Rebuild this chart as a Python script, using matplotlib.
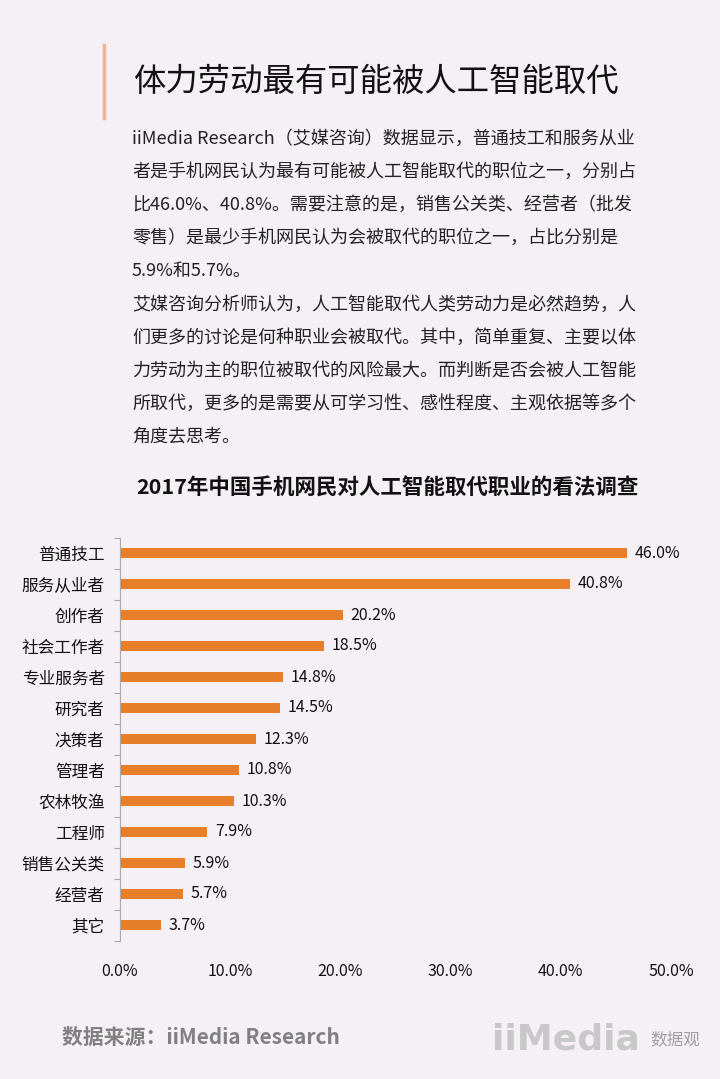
import matplotlib
matplotlib.use('Agg')
import matplotlib.pyplot as plt
import numpy as np

plt.rcParams['font.family'] = ['Noto Sans CJK SC', 'DejaVu Sans']

# data
categories = ['普通技工', '服务从业者', '创作者', '社会工作者', '专业服务者', '研究者',
              '决策者', '管理者', '农林牧渔', '工程师', '销售公关类', '经营者', '其它']
values = [46.0, 40.8, 20.2, 18.5, 14.8, 14.5, 12.3, 10.8, 10.3, 7.9, 5.9, 5.7, 3.7]
xticks = [0, 10, 20, 30, 40, 50]

page_title = '体力劳动最有可能被人工智能取代'
body_lines = [
    'iiMedia Research（艾媒咨询）数据显示，普通技工和服务从业',
    '者是手机网民认为最有可能被人工智能取代的职位之一，分别占',
    '比46.0%、40.8%。需要注意的是，销售公关类、经营者（批发',
    '零售）是最少手机网民认为会被取代的职位之一，占比分别是',
    '5.9%和5.7%。',
    '艾媒咨询分析师认为，人工智能取代人类劳动力是必然趋势，人',
    '们更多的讨论是何种职业会被取代。其中，简单重复、主要以体',
    '力劳动为主的职位被取代的风险最大。而判断是否会被人工智能',
    '所取代，更多的是需要从可学习性、感性程度、主观依据等多个',
    '角度去思考。',
]
chart_title = '2017年中国手机网民对人工智能取代职业的看法调查'
source = '数据来源：iiMedia Research'

W, H = 720, 1079
bg = '#f5f0f5'
orange = '#e67e2a'

fig = plt.figure(figsize=(W / 100, H / 100), dpi=100, facecolor=bg)


def fx(px):
    return px / W


def fy(py):
    return 1 - py / H


# title with accent bar
fig.add_artist(plt.Line2D([fx(104), fx(104)], [fy(45), fy(118)], color='#eeb48f', lw=2.5))
fig.text(fx(133), fy(82), page_title, fontsize=23.3, color='#111111', va='center', ha='left')

# body text
y0 = 139
for i, line in enumerate(body_lines):
    fig.text(fx(132), fy(y0 + i * 33.1), line, fontsize=13.0, color='#222222', va='center', ha='left')

fig.text(fx(387), fy(488), chart_title, fontsize=15.5, fontweight='bold', color='#111111',
         va='center', ha='center')

# chart
ax = fig.add_axes([fx(120), fy(940.5), fx(671) - fx(120), (940.5 - 537.5) / H])
ax.set_facecolor('none')
ypos = np.arange(len(categories))
ax.barh(ypos, values, height=0.34, color=orange)
for y, v in zip(ypos, values):
    ax.text(v + 0.7, y, f'{v:.1f}%', va='center', ha='left', fontsize=11.5, color='#111111')

ax.set_xlim(0, 50)
ax.set_ylim(len(categories) - 0.5, -0.5)
ax.set_xticks(xticks)
ax.set_xticklabels([f'{t:.1f}%' for t in xticks], fontsize=11.5, color='#111111')
ax.set_yticks(ypos)
ax.set_yticklabels(categories, fontsize=12, color='#111111')
ax.set_yticks(np.arange(-0.5, len(categories)), minor=True)
ax.tick_params(axis='y', which='major', length=0, pad=11)
ax.tick_params(axis='y', which='minor', length=4, color='#aaaaaa', width=0.8)
ax.tick_params(axis='x', length=0, pad=16)
for s in ['top', 'right', 'bottom']:
    ax.spines[s].set_visible(False)
ax.spines['left'].set_color('#aaaaaa')
ax.spines['left'].set_linewidth(0.8)

# footer
fig.text(fx(62), fy(1037), source, fontsize=15, fontweight='bold', color='#808080',
         va='center', ha='left')
fig.text(fx(492), fy(1040), 'iiMedia', fontsize=26, fontweight='bold', color='#c8c8c8',
         va='center', ha='left', family=['DejaVu Sans'])
fig.text(fx(650), fy(1040), '数据观', fontsize=12, color='#a0a0a0', va='center', ha='left')

fig.savefig('out.png', dpi=100, facecolor=bg)
